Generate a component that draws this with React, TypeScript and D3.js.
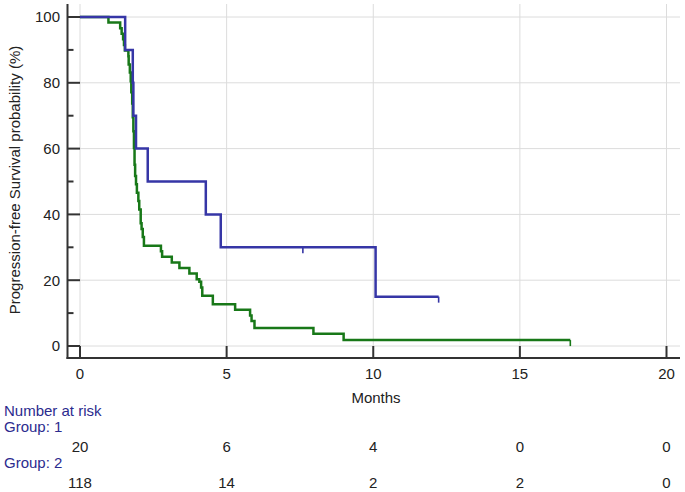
import { useEffect, useRef } from "react"
import * as d3 from "d3"

// Kaplan-Meier steps: [months, survival %]
const group1Steps: [number, number][] = [
  [0, 100], [1.54, 90], [1.8, 80], [1.82, 70], [1.91, 60], [2.31, 50],
  [4.29, 40], [4.8, 30], [10.08, 15],
]
const group1End = 12.23
const group1Censored = [7.6, 12.23]

const group2Steps: [number, number][] = [
  [0, 100], [0.97, 98.3], [1.37, 96.6], [1.42, 94.9], [1.47, 93.2], [1.5, 91.5],
  [1.53, 89.8], [1.65, 88.1], [1.66, 85.6], [1.7, 83.1], [1.73, 80.5], [1.75, 77.1],
  [1.78, 73.7], [1.8, 69.5], [1.82, 65.3], [1.84, 60.2], [1.86, 55.1], [1.88, 51.7],
  [1.91, 49.2], [1.94, 46.6], [1.99, 44.1], [2.02, 41.5], [2.07, 37.3], [2.1, 35.6],
  [2.14, 33.1], [2.18, 30.5], [2.76, 28.8], [2.8, 27.1], [3.13, 25.4], [3.39, 23.7],
  [3.73, 22.0], [3.98, 20.3], [4.07, 19.5], [4.13, 17.8], [4.17, 15.3], [4.53, 12.7],
  [5.29, 11.0], [5.8, 9.3], [5.85, 7.6], [5.95, 5.5], [7.96, 3.7], [8.99, 1.8],
]
const group2End = 16.72
const group2Censored = [16.72]

const xTicks = [0, 5, 10, 15, 20]
const yTicks = [0, 20, 40, 60, 80, 100]
const yMinorTicks = [10, 30, 50, 70, 90]
const riskGroup1 = [20, 6, 4, 0, 0]
const riskGroup2 = [118, 14, 2, 2, 0]

const BLUE = "#3636a6"
const GREEN = "#187818"
const LABEL_BLUE = "#2b2b8e"
const FONT = "'Liberation Sans', Arial, sans-serif"

export default function App() {
  const svgRef = useRef<SVGSVGElement>(null)

  useEffect(() => {
    if (!svgRef.current) return
    const svg = d3.select(svgRef.current)
    svg.selectAll("*").remove()

    const x = d3.scaleLinear().domain([0, 20]).range([80, 666.5])
    const y = d3.scaleLinear().domain([0, 100]).range([346, 17])
    const axisX = 67.5
    const axisY = 358

    // gridlines
    const grid = svg.append("g").attr("stroke", "#dcdcdc").attr("stroke-width", 1)
    yTicks.forEach((t) => {
      grid.append("line").attr("x1", x(0)).attr("x2", 680).attr("y1", y(t)).attr("y2", y(t))
    })
    xTicks.forEach((t) => {
      grid.append("line").attr("x1", x(t)).attr("x2", x(t)).attr("y1", 4).attr("y2", y(0))
    })

    // axes
    const axes = svg.append("g").attr("stroke", "#333").attr("stroke-width", 2).attr("fill", "none")
    axes.append("line").attr("x1", axisX).attr("x2", axisX).attr("y1", 4).attr("y2", axisY + 1)
    axes.append("line").attr("x1", axisX - 1).attr("x2", 680).attr("y1", axisY).attr("y2", axisY)
    yTicks.forEach((t) => {
      axes.append("line").attr("x1", axisX).attr("x2", x(0)).attr("y1", y(t)).attr("y2", y(t))
    })
    yMinorTicks.forEach((t) => {
      axes.append("line").attr("x1", axisX).attr("x2", axisX + 6).attr("y1", y(t)).attr("y2", y(t))
    })
    xTicks.forEach((t) => {
      axes.append("line").attr("x1", x(t)).attr("x2", x(t)).attr("y1", axisY).attr("y2", y(0))
    })

    // tick labels
    const labels = svg.append("g").attr("font-family", FONT).attr("font-size", 15).attr("fill", "#222")
    yTicks.forEach((t) => {
      labels.append("text").attr("x", 60).attr("y", y(t) + 5.4).attr("text-anchor", "end").text(t)
    })
    xTicks.forEach((t) => {
      labels.append("text").attr("x", x(t)).attr("y", 378.5).attr("text-anchor", "middle").text(t)
    })
    labels.append("text").attr("x", 376).attr("y", 402.5).attr("text-anchor", "middle").text("Months")
    labels
      .append("text")
      .attr("transform", `translate(20, 180) rotate(-90)`)
      .attr("text-anchor", "middle")
      .text("Progression-free Survival probability (%)")

    // survival curves
    const line = d3
      .line<[number, number]>()
      .x((d) => x(d[0]))
      .y((d) => y(d[1]))
      .curve(d3.curveStepAfter)

    const drawCurve = (steps: [number, number][], end: number, censored: number[], color: string) => {
      const pts = [...steps, [end, steps[steps.length - 1][1]] as [number, number]]
      svg
        .append("path")
        .attr("d", line(pts))
        .attr("fill", "none")
        .attr("stroke", color)
        .attr("stroke-width", 2.5)
      censored.forEach((c) => {
        const step = steps.filter((s) => s[0] <= c).pop()!
        svg
          .append("line")
          .attr("x1", x(c))
          .attr("x2", x(c))
          .attr("y1", y(step[1]))
          .attr("y2", y(step[1]) + 6)
          .attr("stroke", color)
          .attr("stroke-width", 1.6)
      })
    }
    drawCurve(group2Steps, group2End, group2Censored, GREEN)
    drawCurve(group1Steps, group1End, group1Censored, BLUE)

    // number at risk table
    const risk = svg.append("g").attr("font-family", FONT).attr("font-size", 15)
    risk.append("text").attr("x", 4).attr("y", 415.5).attr("fill", LABEL_BLUE).text("Number at risk")
    risk.append("text").attr("x", 4).attr("y", 432).attr("fill", LABEL_BLUE).text("Group: 1")
    risk.append("text").attr("x", 4).attr("y", 468).attr("fill", LABEL_BLUE).text("Group: 2")
    riskGroup1.forEach((n, i) => {
      risk.append("text").attr("x", x(xTicks[i])).attr("y", 452).attr("text-anchor", "middle").attr("fill", "#222").text(n)
    })
    riskGroup2.forEach((n, i) => {
      risk.append("text").attr("x", x(xTicks[i])).attr("y", 487.5).attr("text-anchor", "middle").attr("fill", "#222").text(n)
    })
  }, [])

  return (
    <svg
      ref={svgRef}
      width={685}
      height={492}
      style={{ position: "absolute", left: 0, top: 0, background: "#fff" }}
    />
  )
}
